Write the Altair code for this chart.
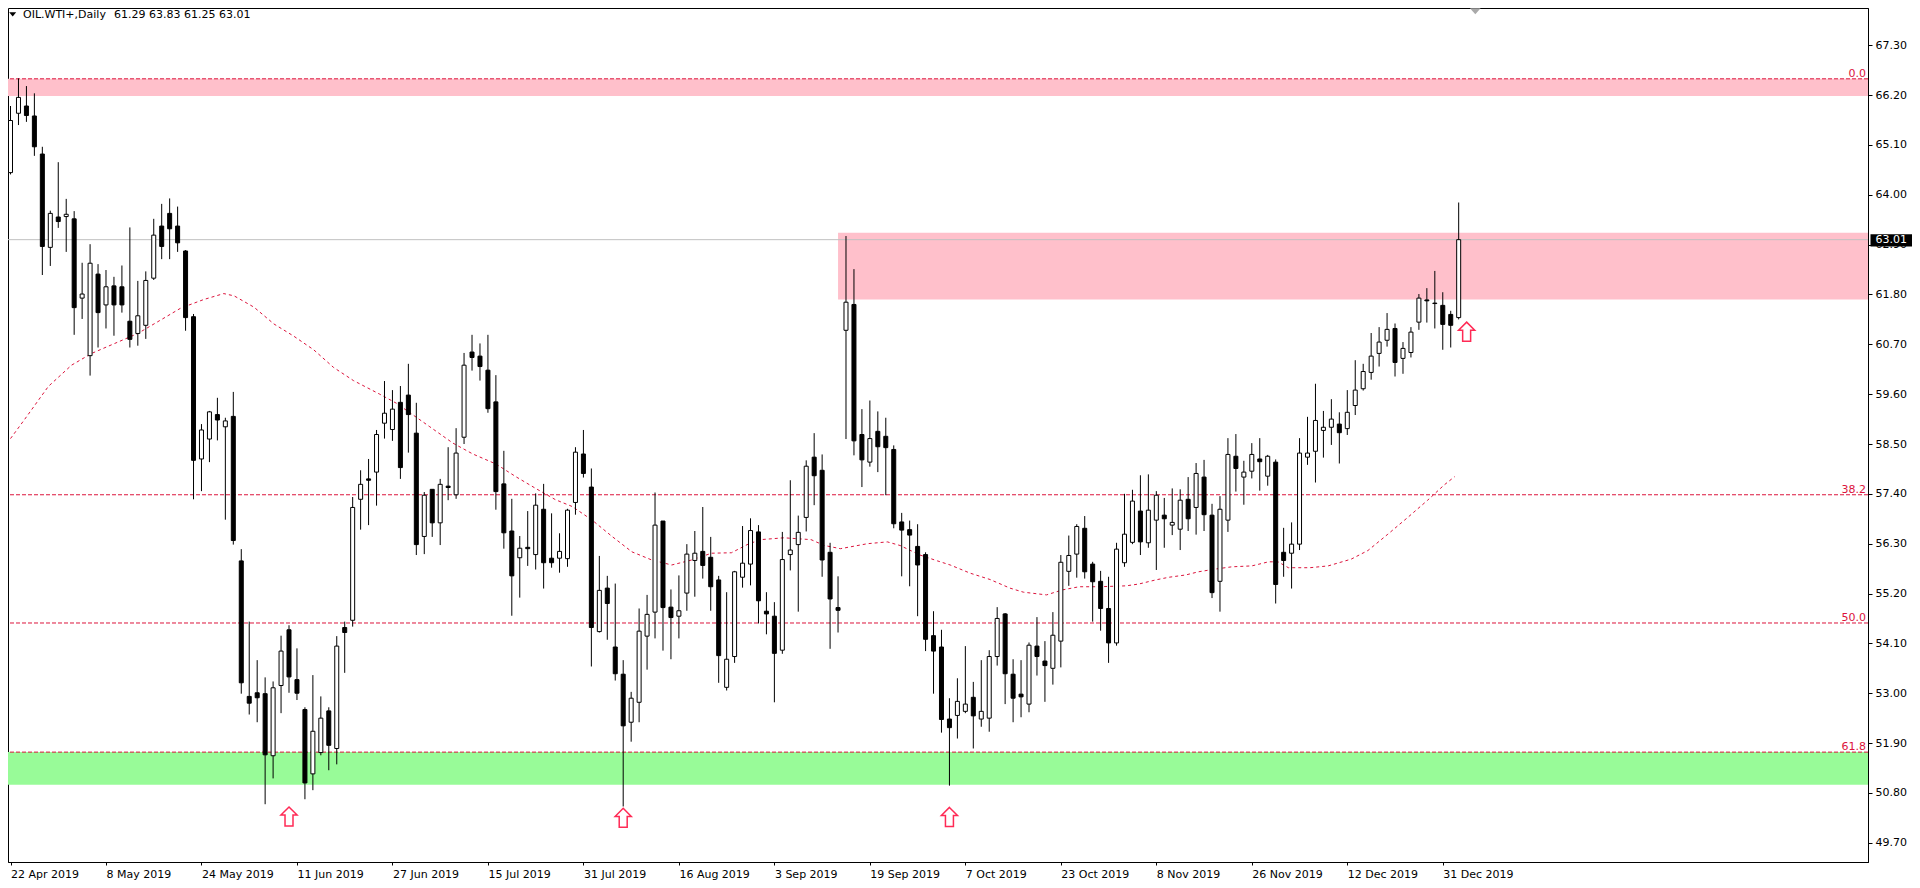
import altair as alt
import pandas as pd

# ---------------- data ----------------
opens = [64.49, 65.80, 65.96, 65.74, 64.90, 62.84, 63.51, 63.52, 63.47, 61.72,
         60.45, 62.25, 61.57, 61.99, 61.97, 61.21, 60.94, 61.12, 62.16, 63.31,
         63.59, 63.31, 62.76, 61.31, 58.17, 58.61, 59.15, 58.88, 59.11, 55.92,
         52.93, 53.01, 52.99, 51.62, 53.17, 54.40, 53.30, 52.64, 51.22, 51.69,
         52.61, 51.78, 54.45, 54.61, 57.28, 57.73, 57.88, 58.96, 58.82, 59.42,
         59.58, 58.74, 56.46, 57.50, 56.76, 57.57, 57.38, 58.65, 60.53, 60.44,
         60.13, 59.43, 57.62, 56.58, 55.99, 56.22, 56.06, 57.06, 55.98, 55.98,
         55.97, 57.21, 58.28, 57.55, 54.36, 55.32, 54.02, 53.42, 52.36, 52.80,
         54.26, 54.79, 56.80, 54.90, 54.70, 55.21, 55.93, 56.13, 56.00, 55.50,
         53.13, 53.81, 55.56, 55.85, 56.56, 54.81, 54.70, 53.95, 56.06, 56.28,
         56.88, 58.21, 57.92, 56.11, 54.89, 61.01, 61.58, 58.71, 58.10, 58.78,
         58.67, 58.38, 56.78, 56.61, 56.24, 56.06, 54.27, 54.02, 52.43, 52.51,
         52.60, 52.91, 52.43, 52.45, 53.81, 54.75, 53.42, 52.98, 52.76, 54.04,
         53.71, 53.55, 54.15, 55.69, 56.07, 56.64, 55.85, 55.47, 54.87, 54.11,
         55.88, 56.33, 57.02, 56.32, 56.82, 56.93, 56.71, 56.62, 57.28, 57.10,
         57.77, 56.93, 55.47, 56.82, 58.23, 57.77, 57.90, 58.17, 57.79, 58.10,
         56.11, 56.09, 56.29, 58.21, 58.34, 58.80, 58.87, 58.94, 58.84, 59.35,
         59.72, 60.08, 60.50, 60.79, 61.05, 60.39, 60.52, 61.19, 61.68, 61.61,
         61.56, 61.36, 61.29]
highs = [65.96, 66.57, 66.40, 66.24, 65.06, 63.65, 64.72, 63.91, 63.64, 62.50,
         62.91, 62.47, 62.34, 62.19, 62.44, 63.28, 62.10, 62.31, 63.47, 63.80,
         63.92, 63.74, 62.78, 61.37, 58.94, 59.23, 59.52, 59.08, 59.65, 56.18,
         54.58, 53.73, 53.35, 53.26, 54.27, 54.50, 53.99, 52.69, 53.40, 52.93,
         52.69, 54.26, 54.58, 57.33, 57.92, 58.17, 58.81, 59.89, 59.69, 59.78,
         60.27, 59.41, 57.44, 57.50, 57.73, 58.43, 58.85, 60.51, 60.91, 60.72,
         60.91, 60.02, 58.35, 57.29, 56.47, 57.02, 57.41, 57.62, 56.97, 56.53,
         57.07, 58.43, 58.81, 57.96, 56.03, 55.59, 55.42, 53.73, 53.03, 54.87,
         55.17, 57.43, 56.80, 55.29, 55.60, 56.29, 56.58, 57.11, 56.45, 55.59,
         55.23, 55.70, 56.69, 56.86, 56.71, 55.23, 55.01, 56.56, 57.70, 56.92,
         58.14, 58.74, 58.27, 56.32, 55.58, 63.09, 62.36, 59.27, 59.46, 59.22,
         59.08, 58.47, 56.98, 56.81, 56.73, 56.11, 54.81, 54.40, 52.89, 53.33,
         54.04, 53.25, 53.73, 53.95, 54.90, 54.77, 53.75, 53.73, 54.12, 54.68,
         54.15, 54.79, 56.05, 56.48, 56.73, 56.91, 55.90, 55.70, 55.57, 56.32,
         57.40, 57.49, 57.81, 57.83, 57.46, 57.31, 57.52, 57.50, 57.77, 58.08,
         58.15, 57.18, 57.35, 58.63, 58.72, 58.13, 58.52, 58.63, 58.26, 58.16,
         56.65, 56.77, 58.63, 59.10, 59.83, 59.23, 59.49, 59.20, 59.69, 60.35,
         60.27, 60.95, 61.08, 61.39, 61.16, 60.75, 61.08, 61.81, 61.94, 62.32,
         61.85, 61.44, 63.83]
lows = [64.45, 65.54, 65.61, 64.86, 62.23, 62.43, 63.27, 62.74, 60.91, 61.26,
        60.01, 60.63, 61.05, 60.89, 61.40, 60.63, 60.67, 60.82, 62.12, 62.58,
        62.58, 62.74, 61.00, 57.28, 57.46, 58.10, 58.58, 56.83, 56.28, 52.99,
        52.53, 52.36, 50.55, 51.12, 52.56, 53.01, 52.85, 50.66, 50.86, 51.63,
        51.30, 51.43, 53.45, 54.47, 56.61, 56.71, 57.14, 58.62, 58.57, 57.73,
        58.31, 56.05, 56.07, 56.45, 56.27, 57.26, 57.29, 58.50, 60.12, 59.90,
        59.19, 57.05, 56.19, 54.71, 55.11, 55.81, 55.73, 55.31, 55.77, 55.66,
        55.79, 56.94, 57.76, 53.59, 54.34, 54.18, 53.28, 50.50, 51.93, 52.36,
        53.52, 54.21, 53.94, 53.75, 54.21, 54.82, 55.13, 55.53, 54.82, 53.23,
        53.06, 53.67, 55.33, 55.38, 54.54, 54.30, 52.80, 53.87, 55.71, 54.80,
        56.57, 57.15, 55.57, 53.98, 54.34, 58.61, 58.25, 57.55, 58.00, 57.88,
        57.37, 56.64, 55.58, 55.36, 54.70, 53.93, 52.99, 52.13, 50.96, 52.00,
        52.56, 51.78, 52.26, 52.15, 53.61, 52.76, 52.36, 52.47, 52.58, 53.39,
        52.81, 53.19, 53.57, 55.37, 55.55, 55.53, 54.58, 54.38, 53.67, 54.05,
        55.79, 56.29, 56.05, 56.21, 55.72, 56.21, 56.49, 56.16, 56.58, 56.50,
        56.58, 55.10, 54.80, 56.56, 57.45, 57.16, 57.74, 57.47, 57.58, 54.98,
        55.57, 55.31, 56.16, 58.04, 57.65, 58.20, 58.48, 58.07, 58.70, 59.14,
        59.68, 59.92, 60.21, 60.65, 59.99, 60.05, 60.41, 61.02, 61.18, 61.05,
        60.58, 60.63, 61.25]
closes = [65.64, 66.15, 65.75, 65.06, 62.86, 63.59, 63.41, 63.57, 61.51, 61.81,
          62.49, 61.40, 61.97, 61.57, 61.57, 60.81, 61.33, 62.11, 63.11, 62.86,
          63.25, 62.94, 61.29, 58.14, 58.81, 59.21, 59.03, 59.01, 56.37, 53.23,
          52.78, 52.90, 51.64, 53.12, 53.93, 53.36, 53.00, 51.02, 52.16, 52.45,
          51.85, 54.04, 54.34, 57.10, 57.61, 57.70, 58.71, 59.18, 59.27, 57.98,
          59.15, 56.28, 57.37, 56.76, 57.61, 57.54, 58.30, 60.24, 60.41, 60.21,
          59.28, 57.45, 56.54, 55.59, 56.20, 56.19, 57.15, 55.88, 55.88, 56.13,
          57.04, 58.32, 57.85, 54.45, 55.27, 54.98, 53.43, 52.28, 52.89, 54.37,
          54.74, 56.71, 54.89, 54.67, 54.82, 56.07, 56.09, 55.82, 55.35, 53.83,
          53.75, 55.68, 55.87, 56.59, 55.04, 54.75, 53.88, 55.95, 56.16, 56.55,
          58.01, 57.80, 55.94, 55.08, 54.83, 61.63, 58.57, 58.15, 58.62, 58.44,
          58.42, 56.74, 56.60, 56.49, 55.83, 54.19, 53.93, 52.42, 52.24, 52.82,
          52.76, 52.50, 52.60, 53.81, 54.65, 53.43, 52.89, 52.92, 54.06, 53.81,
          53.61, 54.28, 55.89, 56.04, 56.68, 55.68, 55.46, 54.87, 54.11, 56.18,
          56.51, 57.24, 56.34, 57.04, 57.37, 56.85, 56.77, 57.26, 56.85, 57.85,
          56.94, 55.22, 57.06, 58.27, 57.96, 57.88, 58.27, 58.11, 58.23, 55.40,
          55.93, 56.29, 58.30, 58.30, 59.02, 58.87, 59.05, 58.75, 59.20, 59.69,
          60.10, 60.44, 60.75, 61.03, 60.30, 60.61, 60.97, 61.72, 61.66, 61.60,
          61.14, 61.12, 63.01]

# dotted moving average (bar position, value)
ma_bar = [0, 1.8, 4.75, 7.67, 10.2, 13.1, 16, 18.9, 21.4, 24.3,
          26.8, 28.1, 30.6, 33.1, 35.6, 38.1, 40.6, 43.1, 44.75, 46.4,
          48.5, 52.7, 55.6, 58.1, 61, 63.5, 66, 68.5, 70.6, 73.1,
          75.6, 78.1, 80.6, 83.1, 85.6, 88.1, 90.6, 92.7, 94.3, 97.2,
          100.6, 102.3, 104.3, 107.7, 110.2, 111.8, 114.3, 116.5, 118.1, 120.6,
          123.1, 125.6, 127.3, 130.2, 132.2, 134.3, 136.8, 140.2, 141.8, 143.9,
          145.6, 147.7, 149.3, 151.4, 153.5, 156, 158.1, 159.3, 160.6, 163.3,
          165.6, 168.5, 170.6, 173.1, 175.6, 178.1, 180.2, 181.5]
ma_val = [58.62, 59.05, 59.77, 60.24, 60.50, 60.72, 60.94, 61.24, 61.50, 61.69,
          61.82, 61.77, 61.52, 61.15, 60.88, 60.58, 60.19, 59.90, 59.75, 59.60,
          59.40, 58.88, 58.52, 58.28, 58.06, 57.78, 57.52, 57.27, 57.12, 56.82,
          56.46, 56.12, 55.94, 55.83, 55.94, 56.09, 56.10, 56.29, 56.39, 56.43,
          56.39, 56.26, 56.19, 56.30, 56.34, 56.26, 56.05, 55.92, 55.83, 55.65,
          55.51, 55.32, 55.23, 55.17, 55.28, 55.35, 55.35, 55.37, 55.41, 55.50,
          55.56, 55.61, 55.68, 55.74, 55.79, 55.81, 55.90, 55.90, 55.77, 55.77,
          55.81, 55.96, 56.15, 56.51, 56.88, 57.26, 57.60, 57.78]

date_ticks = [0, 12, 24, 36, 48, 60, 72, 84, 96, 108, 120, 132, 144, 156, 168, 180]
date_labels = ["22 Apr 2019", "8 May 2019", "24 May 2019", "11 Jun 2019", "27 Jun 2019",
               "15 Jul 2019", "31 Jul 2019", "16 Aug 2019", "3 Sep 2019", "19 Sep 2019",
               "7 Oct 2019", "23 Oct 2019", "8 Nov 2019", "26 Nov 2019", "12 Dec 2019",
               "31 Dec 2019"]
price_ticks = [49.70, 50.80, 51.90, 53.00, 54.10, 55.20, 56.30, 57.40, 58.50,
               59.60, 60.70, 61.80, 62.90, 64.00, 65.10, 66.20, 67.30]

fib_names = ["0.0", "38.2", "50.0", "61.8"]
fib_prices = [66.56, 57.38, 54.55, 51.70]

zone_lo = [50.98, 66.18]
zone_hi = [51.70, 66.56]
zone_colors = ["#98FB98", "#FFC0CB"]
resist_start = [104]
resist_lo = [61.69]
resist_hi = [63.16]

arrow_bar = [35, 77, 118, 183]
arrow_price = [50.28, 50.25, 50.27, 60.98]

symbol_text = "OIL.WTI+,Daily"
ohlc_text = "61.29 63.83 61.25 63.01"
last_price = 63.01

# ---------------- chart ----------------
W, H = 1860, 854
xs = alt.Scale(domain=[0.3125, 232.8125], nice=False, zero=False)
ys = alt.Scale(domain=[49.275, 68.123], nice=False, zero=False)
FONT = "DejaVu Sans"
RED = "#DC143C"

label_expr = "[" + ",".join("'" + d + "'" for d in date_labels) + "][round(datum.value / 12)]"
x_axis = alt.Axis(values=date_ticks, labelExpr=label_expr, title=None, grid=False,
                  domainColor="black", tickColor="black", tickSize=3,
                  labelAlign="left", labelBaseline="alphabetic", labelPadding=12,
                  labelFont=FONT, labelFontSize=11, labelColor="black",
                  labelOverlap=False, labelFlush=False, labelBound=False)
y_axis = alt.Axis(orient="right", values=price_ticks, format=".2f", title=None, grid=False,
                  domainColor="black", tickColor="black", tickSize=4, labelPadding=3,
                  labelAlign="left", labelBaseline="middle",
                  labelFont=FONT, labelFontSize=11, labelColor="black",
                  labelOverlap=False, labelFlush=False, labelBound=False)


def X(f):
    return alt.X(f, type="quantitative", scale=xs, axis=x_axis)


def Y(f):
    return alt.Y(f, type="quantitative", scale=ys, axis=y_axis)


candles = pd.DataFrame({"i": list(range(len(opens))), "o": opens, "h": highs,
                        "l": lows, "c": closes})

zones = alt.Chart(pd.DataFrame({"lo": zone_lo, "hi": zone_hi, "col": zone_colors})).mark_rect(
    clip=True).encode(x=alt.value(0), x2=alt.value(W), y=Y("lo"), y2="hi",
                      fill=alt.Color("col:N", scale=None))

resist = alt.Chart(pd.DataFrame({"x0": resist_start, "lo": resist_lo, "hi": resist_hi})).mark_rect(
    color="#FFC0CB", clip=True).encode(x=X("x0"), x2=alt.value(W), y=Y("lo"), y2="hi")

price_line = alt.Chart(pd.DataFrame({"p": [last_price]})).mark_rule(
    color="#C0C0C0", strokeWidth=1).encode(y=Y("p"))

fib_df = pd.DataFrame({"p": fib_prices, "t": fib_names})
fib_rules = alt.Chart(fib_df).mark_rule(color=RED, strokeWidth=1, strokeDash=[4, 2]).encode(y=Y("p"))
fib_text = alt.Chart(fib_df).mark_text(align="right", baseline="alphabetic", dy=-2, color=RED,
                                       font=FONT, fontSize=11).encode(
    x=alt.value(1858), y=Y("p"), text="t:N")

ma_line = alt.Chart(pd.DataFrame({"b": ma_bar, "v": ma_val})).mark_line(
    color=RED, strokeWidth=1, strokeDash=[3, 3], clip=True).encode(x=X("b"), y=Y("v"))

wicks = alt.Chart(candles).mark_rule(color="black", strokeWidth=1, clip=True).encode(
    x=X("i"), y=Y("l"), y2="h")
bodies = alt.Chart(candles).mark_bar(size=4, stroke="black", strokeWidth=1, clip=True).encode(
    x=X("i"), y=Y("o"), y2="c",
    fill=alt.condition("datum.c >= datum.o", alt.value("white"), alt.value("black")))

ARROW = "M0,-1L0.85,-0.15L0.42,-0.15L0.42,1L-0.42,1L-0.42,-0.15L-0.85,-0.15Z"
arrows = alt.Chart(pd.DataFrame({"b": arrow_bar, "p": arrow_price})).mark_point(
    shape=ARROW, size=361, filled=True, fill="white", stroke="#FF2A55", strokeWidth=1.5,
    opacity=1).encode(x=X("b"), y=Y("p"))

tri = alt.Chart(pd.DataFrame({"a": [0]})).mark_point(
    shape="M-1,-0.6L1,-0.6L0,0.6Z", size=49, filled=True, color="black", opacity=1).encode(
    x=alt.value(4.7), y=alt.value(6.3))
shift_marker = alt.Chart(pd.DataFrame({"a": [0]})).mark_point(
    shape="M-1,-0.56L1,-0.56L0,0.56Z", size=114, filled=True, color="#A9A9A9", opacity=1).encode(
    x=alt.value(1467.3), y=alt.value(3.2))
hdr1 = alt.Chart(pd.DataFrame({"t": [symbol_text]})).mark_text(
    align="left", baseline="middle", font=FONT, fontSize=11, color="black").encode(
    x=alt.value(15), y=alt.value(7), text="t:N")
hdr2 = alt.Chart(pd.DataFrame({"t": [ohlc_text]})).mark_text(
    align="left", baseline="middle", font=FONT, fontSize=11, color="black").encode(
    x=alt.value(106), y=alt.value(7), text="t:N")

box = alt.Chart(pd.DataFrame({"hi": [last_price + 0.12], "lo": [last_price - 0.15]})).mark_rect(
    color="black").encode(x=alt.value(1862.5), x2=alt.value(1905), y=Y("hi"), y2="lo")
box_txt = alt.Chart(pd.DataFrame({"p": [last_price], "t": ["%.2f" % last_price]})).mark_text(
    align="left", baseline="middle", color="white", font=FONT, fontSize=11).encode(
    x=alt.value(1867.6), y=Y("p"), text="t:N")

chart = alt.layer(zones, resist, price_line, fib_rules, ma_line, wicks, bodies, fib_text,
                  arrows, tri, shift_marker, hdr1, hdr2, box, box_txt).properties(
    width=W, height=H, autosize=alt.AutoSizeParams(type="none"),
    padding={"left": 0, "top": 0, "right": 44, "bottom": 18},
    background="white").configure_view(stroke="black", strokeWidth=1)

chart.save("out.html", embed_options={"renderer": "svg", "actions": False})
